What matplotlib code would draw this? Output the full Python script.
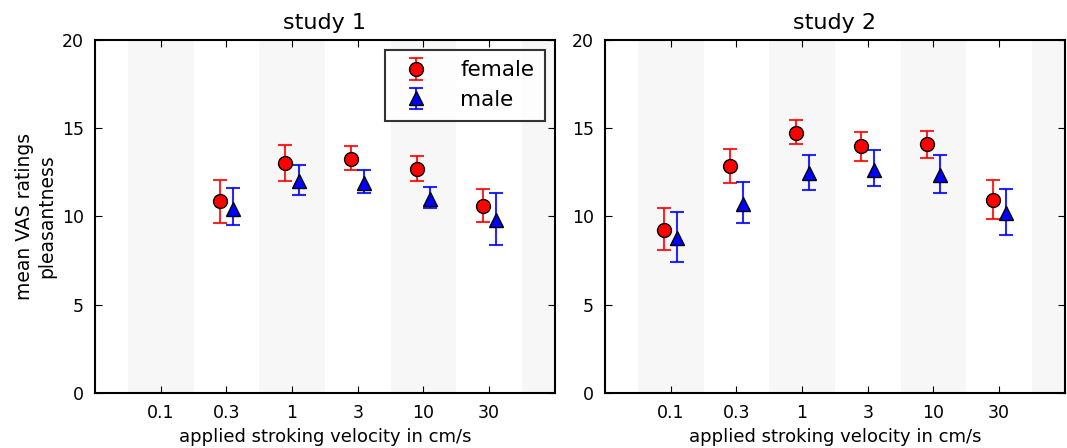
import numpy as np
import matplotlib
matplotlib.use("Agg")
import matplotlib.pyplot as plt

velocities = ["0.1", "0.3", "1", "3", "10", "30"]

# study 1 (no data at 0.1 cm/s)
s1_female = [np.nan, 10.85, 13.0, 13.25, 12.7, 10.6]
s1_female_lo = [np.nan, 9.65, 12.0, 12.6, 12.0, 9.7]
s1_female_hi = [np.nan, 12.05, 14.05, 14.0, 13.4, 11.55]
s1_male = [np.nan, 10.4, 12.0, 11.9, 11.0, 9.8]
s1_male_lo = [np.nan, 9.5, 11.2, 11.3, 10.45, 8.4]
s1_male_hi = [np.nan, 11.6, 12.9, 12.6, 11.65, 11.3]

# study 2
s2_female = [9.25, 12.85, 14.75, 14.0, 14.1, 10.95]
s2_female_lo = [8.1, 11.9, 14.1, 13.15, 13.3, 9.85]
s2_female_hi = [10.45, 13.8, 15.45, 14.8, 14.85, 12.05]
s2_male = [8.8, 10.7, 12.45, 12.65, 12.35, 10.2]
s2_male_lo = [7.4, 9.6, 11.5, 11.7, 11.35, 8.95]
s2_male_hi = [10.25, 11.95, 13.5, 13.75, 13.45, 11.55]

plt.rcParams['font.family'] = ['DejaVu Sans']
plt.rcParams['font.size'] = 12

fig = plt.figure(figsize=(10.67, 4.48), dpi=100)
ax1 = fig.add_axes([0.089, 0.123, 0.431, 0.788])
ax2 = fig.add_axes([0.567, 0.123, 0.431, 0.788])

x = np.arange(len(velocities))


def draw(ax, title, f, flo, fhi, m, mlo, mhi, legend=False):
    for start in [-0.5, 1.5, 3.5, 5.5]:
        ax.axvspan(start, start + 1, color="#f7f7f7", lw=0, zorder=0)
    f = np.array(f)
    m = np.array(m)
    ferr = [f - np.array(flo), np.array(fhi) - f]
    merr = [m - np.array(mlo), np.array(mhi) - m]
    ax.errorbar(x - 0.1, f, yerr=ferr, fmt="o", color="red", mec="black",
                mfc="red", ms=10, ecolor=(1, 0, 0, 0.85), elinewidth=1.5,
                capsize=5, capthick=1.5, label="female", zorder=3)
    ax.errorbar(x + 0.1, m, yerr=merr, fmt="^", color="blue", mec="black",
                mfc="blue", ms=10, ecolor=(0, 0, 1, 0.85), elinewidth=1.5,
                capsize=5, capthick=1.5, label="male", zorder=3)
    ax.set_xlim(-1, 6)
    ax.set_ylim(0, 20)
    ax.set_xticks(x)
    ax.set_xticklabels(velocities)
    ax.set_yticks([0, 5, 10, 15, 20])
    ax.tick_params(direction="in", top=True, right=True, length=5, pad=8,
                   labelsize=12.5)
    for sp in ax.spines.values():
        sp.set_linewidth(1.5)
    ax.set_title(title, fontsize=16, pad=8)
    ax.set_xlabel("applied stroking velocity in cm/s", fontsize=13)
    if legend:
        leg = ax.legend(loc="upper right", numpoints=1, fancybox=False,
                        borderaxespad=0.45, handletextpad=1.1, borderpad=0.5,
                        handlelength=1.9, labelspacing=0.45, fontsize=15.5)
        leg.get_frame().set_edgecolor("black")
        leg.get_frame().set_linewidth(1.5)


draw(ax1, "study 1", s1_female, s1_female_lo, s1_female_hi,
     s1_male, s1_male_lo, s1_male_hi, legend=True)
draw(ax2, "study 2", s2_female, s2_female_lo, s2_female_hi,
     s2_male, s2_male_lo, s2_male_hi)
ax1.set_ylabel("mean VAS ratings\npleasantness", fontsize=13.5)

fig.savefig("out.png", dpi=100)
